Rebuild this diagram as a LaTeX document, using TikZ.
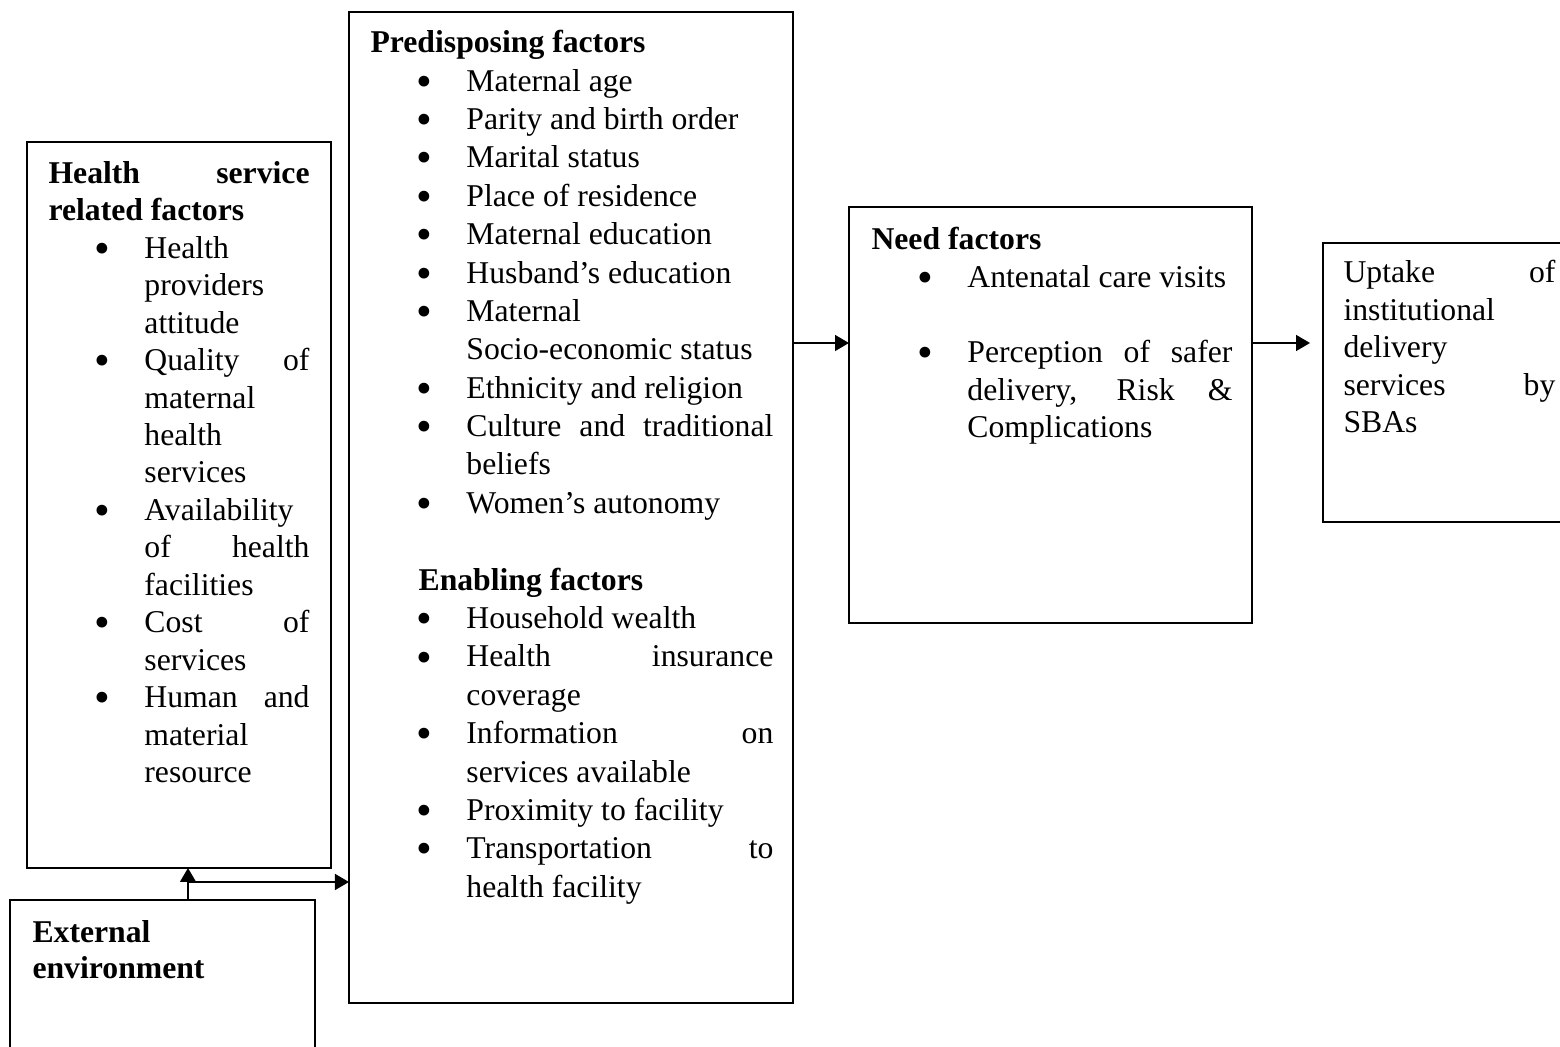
\documentclass[tikz,border=0pt]{standalone}
\usepackage{fontspec}
\setmainfont{Liberation Serif}
\usepackage{enumitem}
\usetikzlibrary{arrows.meta,fit}
\hyphenpenalty=10000
\exhyphenpenalty=10000
\tolerance=10000
\hbadness=10000
\newcommand{\dotlabel}{\makebox[0pt]{\raisebox{-1.93pt}{\fontsize{17}{0}\selectfont\textbullet}}}
\setlist[itemize]{label=\dotlabel,leftmargin=36.3pt,labelsep=15.9pt,topsep=0pt,partopsep=0pt,itemsep=0pt,parsep=0pt}

\begin{document}
\begin{tikzpicture}[x=0.3785pt, y=-0.3785pt,
  box/.style={draw, line width=0.75pt, inner sep=0pt, outer sep=0pt},
  txt/.style={anchor=base west, inner sep=0pt, align=justify},
  arr/.style={-{Triangle[length=5.3pt,width=6pt]}, line width=0.75pt}]
  \useasboundingbox (0,0) rectangle (1560,1047);
  \clip (0,0) rectangle (1560,1047);

  % boxes
  \node[box, fit={(27,142) (331,868)}] (health) {};
  \node[box, fit={(10,900) (315,1070)}] (ext) {};
  \node[box, fit={(349,12) (793,1003)}] (pred) {};
  \node[box, fit={(849,207) (1252,623)}] (need) {};
  \node[box, fit={(1323,243) (1580,522)}] (uptake) {};

  % texts
  \node[txt, text width=98.8pt, font=\fontsize{12}{14.17}\selectfont] (health-txt) at (48,183.5) {%
    \textbf{Health service\linebreak related factors}
    \begin{itemize}
      \item Health\newline providers\newline attitude
      \item Quality of\linebreak maternal\newline health\newline services
      \item Availability\newline of health\linebreak facilities
      \item Cost of\linebreak services
      \item Human and\linebreak material\newline resource
    \end{itemize}};
  \node[txt, text width=99.2pt, font=\fontsize{12}{13.7}\selectfont] (ext-txt) at (32,942.5) {%
    \textbf{External\newline environment}};
  \node[txt, text width=152.5pt, font=\fontsize{12}{14.53}\selectfont] (pred-txt) at (370,52.7) {%
    \textbf{Predisposing factors}
    \begin{itemize}
      \item Maternal age
      \item Parity and birth order
      \item Marital status
      \item Place of residence
      \item Maternal education
      \item Husband’s education
      \item Maternal\newline Socio-economic status
      \item Ethnicity and religion
      \item Culture and traditional\linebreak beliefs
      \item Women’s autonomy
    \end{itemize}
    \vspace{\baselineskip}
    \hspace*{18.2pt}\textbf{Enabling factors}
    \begin{itemize}
      \item Household wealth
      \item Health insurance\linebreak coverage
      \item Information on\linebreak services available
      \item Proximity to facility
      \item Transportation to\linebreak health facility
    \end{itemize}};
  \node[txt, text width=136.6pt, font=\fontsize{12}{14.2}\selectfont] (need-txt) at (871,250) {%
    \textbf{Need factors}
    \begin{itemize}
      \item Antenatal care visits\par\vspace{14.2pt}
      \item Perception of safer\linebreak delivery, Risk \&\linebreak Complications
    \end{itemize}};
  \node[txt, text width=80.2pt, font=\fontsize{12}{14.15}\selectfont] (uptake-txt) at (1343,283) {%
    Uptake of\linebreak institutional\newline delivery\newline services by\linebreak SBAs};

  % connectors
  \coordinate (lvl) at (0,343);
  \coordinate (j) at (188,882);
  \draw[arr] (pred.east |- lvl) -- (need.west |- lvl);
  \draw[arr, shorten >=4.9pt] (need.east |- lvl) -- (uptake.west |- lvl);
  \draw[arr] (ext.north -| j) -- (health.south -| j);
  \draw[arr] (j) -- (pred.west |- j);
\end{tikzpicture}
\end{document}
